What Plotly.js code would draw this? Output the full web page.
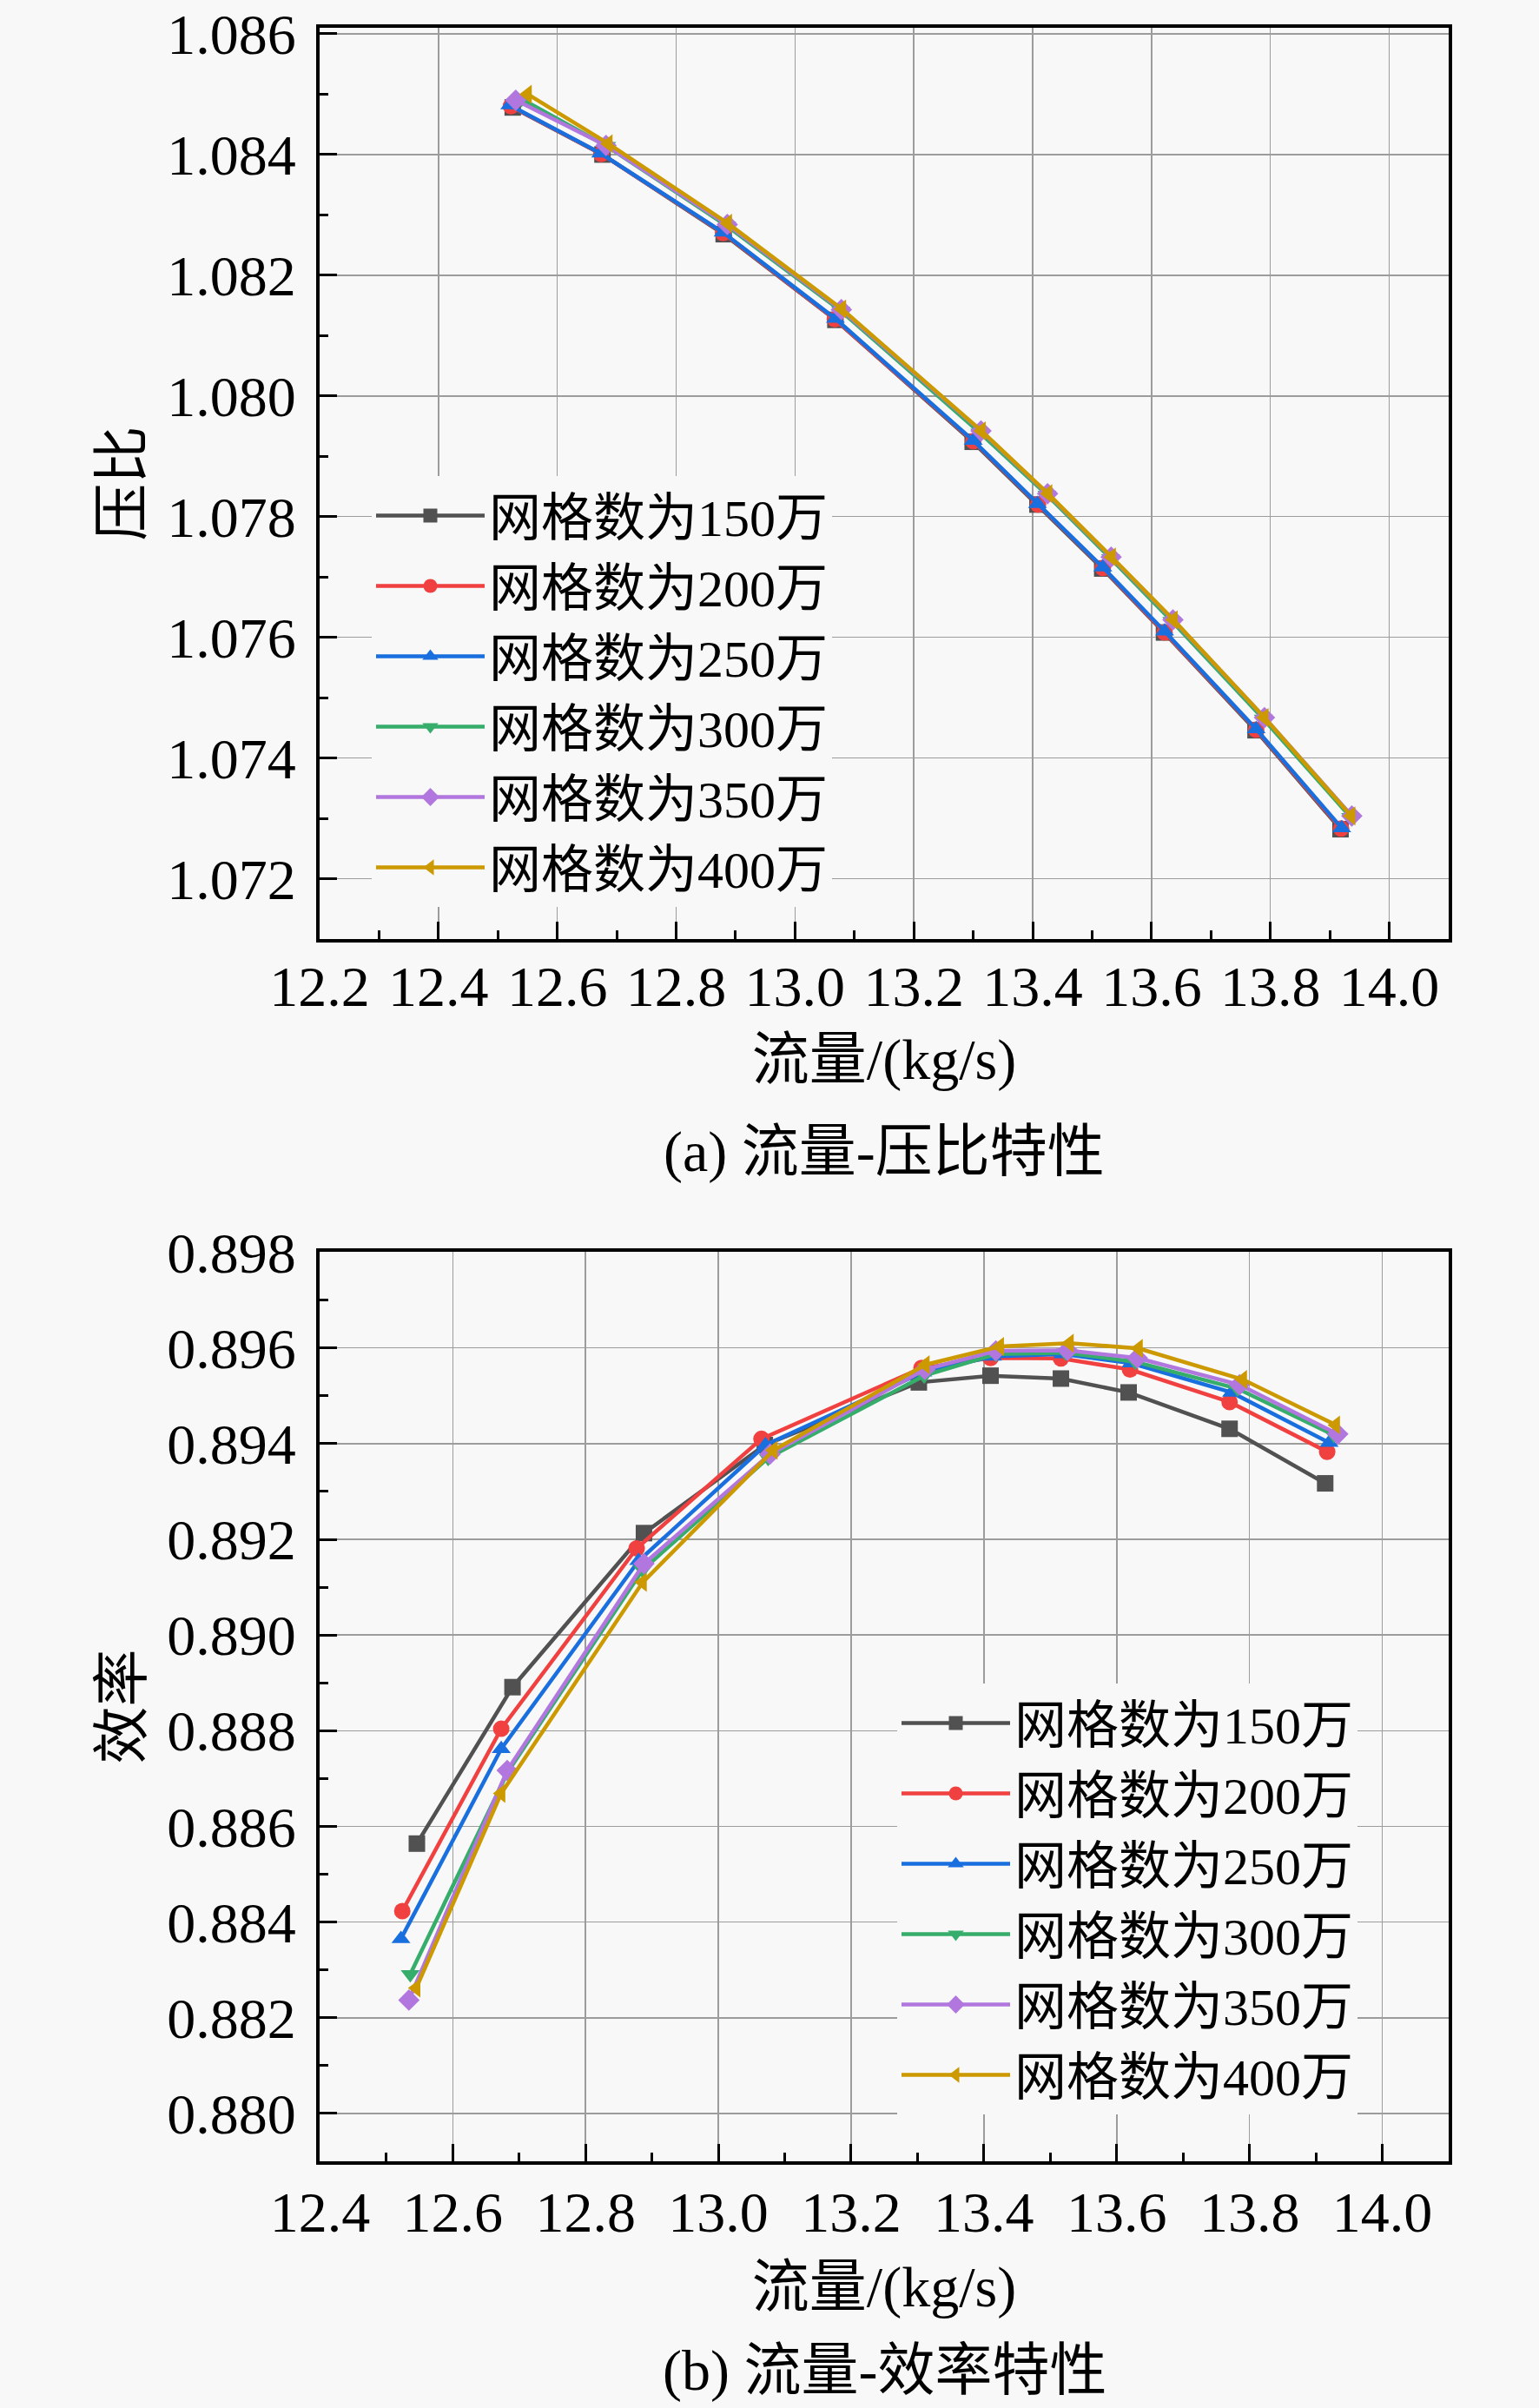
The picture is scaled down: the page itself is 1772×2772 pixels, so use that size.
<!DOCTYPE html>
<html>
<head>
<meta charset="utf-8">
<script src="https://cdn.plot.ly/plotly-3.0.1.min.js"></script>
<style>html,body{margin:0;padding:0;background:#f8f8f8;}</style>
</head>
<body>
<div id="chart" style="width:1772px;height:2772px;"></div>
<script>
// ---- Data: legend names ----
const seriesNames = ['网格数为150万','网格数为200万','网格数为250万','网格数为300万','网格数为350万','网格数为400万'];

// ---- (a) flow vs pressure ratio ----
const xA150 = [12.525, 12.676, 12.880, 13.068, 13.299, 13.408, 13.517, 13.621, 13.775, 13.918];
const yA150 = [1.08478, 1.08400, 1.08268, 1.08126, 1.07924, 1.07820, 1.07714, 1.07608, 1.07446, 1.07282];
const xA200 = [12.522, 12.674, 12.879, 13.067, 13.300, 13.409, 13.518, 13.622, 13.776, 13.919];
const yA200 = [1.08480, 1.08401, 1.08270, 1.08127, 1.07925, 1.07820, 1.07715, 1.07608, 1.07447, 1.07283];
const xA250 = [12.520, 12.673, 12.879, 13.068, 13.300, 13.408, 13.518, 13.622, 13.776, 13.920];
const yA250 = [1.08482, 1.08402, 1.08271, 1.08128, 1.07926, 1.07821, 1.07716, 1.07610, 1.07448, 1.07284];
const xA300 = [12.540, 12.683, 12.885, 13.077, 13.311, 13.424, 13.531, 13.634, 13.788, 13.935];
const yA300 = [1.08492, 1.08414, 1.08282, 1.08141, 1.07939, 1.07836, 1.07731, 1.07627, 1.07465, 1.07302];
const xA350 = [12.530, 12.682, 12.886, 13.078, 13.313, 13.425, 13.532, 13.636, 13.790, 13.937];
const yA350 = [1.08490, 1.08415, 1.08284, 1.08143, 1.07942, 1.07838, 1.07733, 1.07629, 1.07467, 1.07304];
const xA400 = [12.550, 12.686, 12.887, 13.079, 13.314, 13.426, 13.533, 13.637, 13.790, 13.936];
const yA400 = [1.08500, 1.08418, 1.08286, 1.08144, 1.07942, 1.07838, 1.07733, 1.07629, 1.07467, 1.07304];

// ---- (b) flow vs efficiency ----
const xB150 = [12.546, 12.690, 12.888, 13.070, 13.302, 13.410, 13.516, 13.618, 13.770, 13.914];
const yB150 = [0.88564, 0.88891, 0.89213, 0.89397, 0.89528, 0.89542, 0.89536, 0.89507, 0.89431, 0.89317];
const xB200 = [12.524, 12.673, 12.877, 13.065, 13.306, 13.410, 13.516, 13.620, 13.770, 13.917];
const yB200 = [0.88423, 0.88804, 0.89181, 0.89410, 0.89558, 0.89579, 0.89578, 0.89555, 0.89487, 0.89383];
const xB250 = [12.522, 12.673, 12.880, 13.071, 13.308, 13.413, 13.519, 13.622, 13.773, 13.920];
const yB250 = [0.88365, 0.88762, 0.89155, 0.89397, 0.89549, 0.89582, 0.89587, 0.89568, 0.89507, 0.89402];
const xB300 = [12.536, 12.683, 12.886, 13.075, 13.310, 13.418, 13.523, 13.628, 13.782, 13.927];
const yB300 = [0.88291, 0.88714, 0.89136, 0.89370, 0.89542, 0.89587, 0.89590, 0.89571, 0.89515, 0.89418];
const xB350 = [12.534, 12.682, 12.888, 13.078, 13.311, 13.418, 13.526, 13.631, 13.785, 13.933];
const yB350 = [0.88237, 0.88717, 0.89149, 0.89378, 0.89555, 0.89594, 0.89595, 0.89579, 0.89523, 0.89420];
const xB400 = [12.545, 12.673, 12.886, 13.083, 13.312, 13.424, 13.529, 13.633, 13.790, 13.930];
const yB400 = [0.88262, 0.88669, 0.89110, 0.89386, 0.89565, 0.89603, 0.89610, 0.89599, 0.89534, 0.89439];

// ---- Text ----
const xTitle = '流量/(kg/s)';
const yTitleA = '压比';
const yTitleB = '效率';
const captionA = '(a) 流量-压比特性';
const captionB = '(b) 流量-效率特性';

// ---- Styles ----
const colors = ['#515151', '#F14040', '#1A6FDF', '#37AD6B', '#B177DE', '#CC9900'];
const symbols = ['square', 'circle', 'triangle-up', 'triangle-down', 'diamond', 'triangle-left'];
const FONT = 'Liberation Serif, Noto Sans CJK SC, serif';

const xsA = [xA150, xA200, xA250, xA300, xA350, xA400];
const ysA = [yA150, yA200, yA250, yA300, yA350, yA400];
const xsB = [xB150, xB200, xB250, xB300, xB350, xB400];
const ysB = [yB150, yB200, yB250, yB300, yB350, yB400];

const traces = [];
for (let i = 0; i < 6; i++) {
  traces.push({
    type: 'scatter', mode: 'lines+markers', name: seriesNames[i],
    x: xsA[i], y: ysA[i], xaxis: 'x', yaxis: 'y', legend: 'legend',
    line: {color: colors[i], width: 4.5},
    marker: {symbol: symbols[i], size: 19, color: colors[i]}
  });
}
for (let i = 0; i < 6; i++) {
  traces.push({
    type: 'scatter', mode: 'lines+markers', name: seriesNames[i],
    x: xsB[i], y: ysB[i], xaxis: 'x2', yaxis: 'y2', legend: 'legend2',
    line: {color: colors[i], width: 4.5},
    marker: {symbol: symbols[i], size: 19, color: colors[i]}
  });
}

const W = 1772, H = 2772;
const xDom = [368 / W, 1668 / W];
const yDomA = [1 - 1081 / H, 1 - 32 / H];
const yDomB = [1 - 2488 / H, 1 - 1441 / H];

function axisBase(extra) {
  return Object.assign({
    showline: true, linecolor: '#000', linewidth: 4, mirror: true,
    ticks: 'inside', ticklen: 20, tickwidth: 3, tickcolor: '#000',
    showgrid: true, gridcolor: '#9c9c9c', gridwidth: 1.5, zeroline: false,
    ticklabeloverflow: 'allow',
    tickfont: {family: FONT, size: 66, color: '#000'},
  }, extra);
}

const layout = {
  width: W, height: H, autosize: false,
  margin: {l: 0, r: 0, t: 0, b: 0},
  paper_bgcolor: '#f8f8f8', plot_bgcolor: '#f8f8f8',
  font: {family: FONT, color: '#000'},
  showlegend: true,
  xaxis: axisBase({
    domain: xDom, anchor: 'y', range: [12.2, 14.1], dtick: 0.2, tick0: 12.2, tickformat: '.1f',
    minor: {ticks: 'inside', ticklen: 10, tickwidth: 3, dtick: 0.1, tick0: 12.2, tickcolor: '#000', showgrid: false},
    ticklabelstandoff: -6,
    title: {text: xTitle, font: {family: FONT, size: 66}, standoff: 26}
  }),
  yaxis: axisBase({
    domain: yDomA, anchor: 'x', range: [1.071, 1.0861], dtick: 0.002, tick0: 1.072, tickformat: '.3f',
    minor: {ticks: 'inside', ticklen: 10, tickwidth: 3, dtick: 0.001, tick0: 1.071, tickcolor: '#000', showgrid: false},
    ticklabelstandoff: 10,
    title: {text: yTitleA, font: {family: FONT, size: 66}, standoff: 8}
  }),
  xaxis2: axisBase({
    domain: xDom, anchor: 'y2', range: [12.3995, 14.1], dtick: 0.2, tick0: 12.4, tickformat: '.1f',
    minor: {ticks: 'inside', ticklen: 10, tickwidth: 3, dtick: 0.1, tick0: 12.4, tickcolor: '#000', showgrid: false},
    ticklabelstandoff: -2,
    title: {text: xTitle, font: {family: FONT, size: 66}, standoff: 28}
  }),
  yaxis2: axisBase({
    domain: yDomB, anchor: 'x2', range: [0.879, 0.89801], dtick: 0.002, tick0: 0.880, tickformat: '.3f',
    minor: {ticks: 'inside', ticklen: 10, tickwidth: 3, dtick: 0.001, tick0: 0.879, tickcolor: '#000', showgrid: false},
    ticklabelstandoff: 10,
    title: {text: yTitleB, font: {family: FONT, size: 66}, standoff: 8}
  }),
  legend: {
    x: 428 / W, y: 1 - 548 / H, xanchor: 'left', yanchor: 'top',
    bgcolor: '#f8f8f8', borderwidth: 0, itemwidth: 125,
    font: {family: FONT, size: 60, color: '#000'}, tracegroupgap: 0
  },
  legend2: {
    x: 1033 / W, y: 1 - 1938 / H, xanchor: 'left', yanchor: 'top',
    bgcolor: '#f8f8f8', borderwidth: 0, itemwidth: 125,
    font: {family: FONT, size: 60, color: '#000'}, tracegroupgap: 0
  },
  annotations: [
    {text: captionA, xref: 'paper', yref: 'paper', x: 1018 / W, y: 1 - 1326 / H,
     xanchor: 'center', yanchor: 'middle', showarrow: false, font: {family: FONT, size: 66, color: '#000'}},
    {text: captionB, xref: 'paper', yref: 'paper', x: 1018 / W, y: 1 - 2729 / H,
     xanchor: 'center', yanchor: 'middle', showarrow: false, font: {family: FONT, size: 66, color: '#000'}}
  ]
};

Plotly.newPlot('chart', traces, layout, {staticPlot: true, displayModeBar: false});
</script>
</body>
</html>
